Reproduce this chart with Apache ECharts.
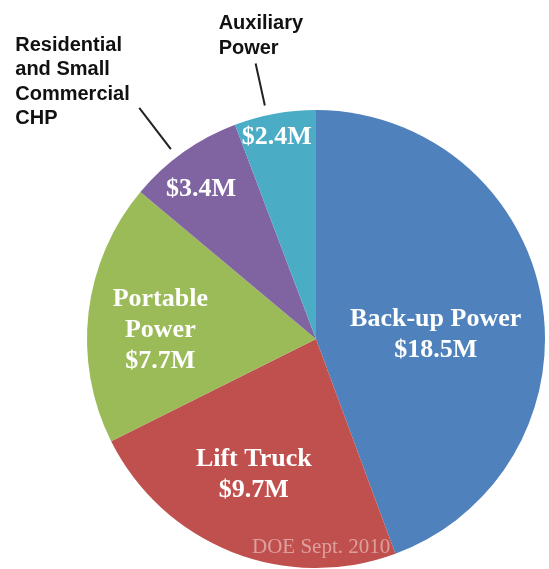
<!DOCTYPE html>
<html>
<head>
<meta charset="utf-8">
<script src="https://cdn.jsdelivr.net/npm/echarts@6/dist/echarts.min.js"></script>
<style>
  html, body { margin: 0; padding: 0; background: #fff; }
  #main { width: 549px; height: 569px; }
</style>
</head>
<body>
<div id="main"></div>
<script>
const segments = ["Back-up Power", "Lift Truck", "Portable Power", "Residential and Small Commercial CHP", "Auxiliary Power"];
const amounts = [18.5, 9.7, 7.7, 3.4, 2.4];
const innerNames = ["Back-up Power", "Lift Truck", "Portable\nPower", "", ""];
const outerNames = ["", "", "", "Residential\nand Small\nCommercial\nCHP", "Auxiliary\nPower"];
const colors = ["#4F81BD", "#C0504D", "#9BBB59", "#8064A2", "#4BACC6"];

// nudges for label placement (px)
const innerShift = [[4, 16], [-19, 27], [-39, 5], [-47, -54], [-18, -86]];
const outerShift = [[0, 0], [0, 0], [0, 0], [-119, -75], [-32, -52]];
const leaderLength = [0, 0, 0, 52, 43];

const chart = echarts.init(document.getElementById("main"));

const mainData = segments.map((name, i) => ({
    name: name,
    value: amounts[i],
    itemStyle: { color: colors[i] },
}));

const outerData = segments.map((name, i) => ({
    name: name,
    value: amounts[i],
    label: { show: outerNames[i] !== "" },
    labelLine: { show: outerNames[i] !== "", length: leaderLength[i] },
}));

const option = {
    animation: false,
    title: {
        text: "DOE Sept. 2010",
        left: 252,
        top: 537,
        padding: 0,
        textStyle: {
            fontFamily: "Liberation Serif",
            fontSize: 21,
            fontWeight: "normal",
            color: "rgba(255,255,255,0.45)",
        },
    },
    series: [
        {
            type: "pie",
            center: [316, 339],
            radius: [0, 229],
            startAngle: 90,
            clockwise: true,
            avoidLabelOverlap: false,
            data: mainData,
            itemStyle: { borderWidth: 0 },
            label: {
                show: true,
                position: "inside",
                formatter: (p) => {
                    const n = innerNames[p.dataIndex];
                    return (n ? n + "\n" : "") + "$" + p.value + "M";
                },
                fontFamily: "Liberation Serif",
                fontWeight: "bold",
                fontSize: 26,
                lineHeight: 31,
                color: "#fff",
            },
            labelLine: { show: false },
            labelLayout: (p) => ({
                dx: innerShift[p.dataIndex][0],
                dy: innerShift[p.dataIndex][1],
            }),
            emphasis: { disabled: true },
        },
        {
            // invisible copy that only carries the callout labels
            type: "pie",
            silent: true,
            center: [316, 339],
            radius: [0, 239],
            startAngle: 92,
            clockwise: true,
            avoidLabelOverlap: false,
            z: 1,
            data: outerData,
            itemStyle: { color: "rgba(0,0,0,0)", borderWidth: 0 },
            label: {
                position: "outside",
                formatter: (p) => outerNames[p.dataIndex],
                fontFamily: "Liberation Sans",
                fontWeight: "bold",
                fontSize: 20,
                lineHeight: 24.5,
                color: "#111",
            },
            labelLine: {
                length2: 0,
                lineStyle: { color: "#222", width: 2 },
            },
            labelLayout: (p) => ({
                dx: outerShift[p.dataIndex][0],
                dy: outerShift[p.dataIndex][1],
                align: "left",
                verticalAlign: "top",
            }),
            emphasis: { disabled: true },
        },
    ],
};

chart.setOption(option);
</script>
</body>
</html>
